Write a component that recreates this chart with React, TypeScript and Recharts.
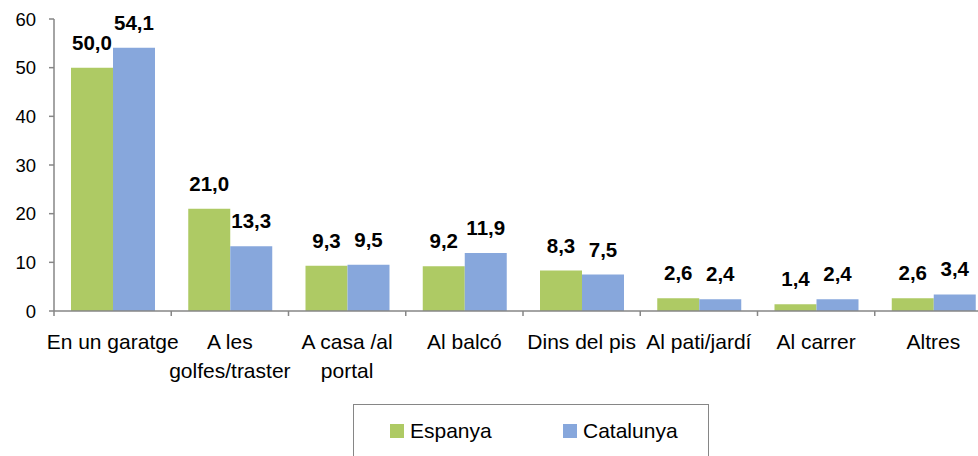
import React from 'react';
import { BarChart, Bar, XAxis, YAxis, LabelList, Legend } from 'recharts';

const categories = [
  'En un garatge',
  'A les\ngolfes/traster',
  'A casa /al\nportal',
  'Al balcó',
  'Dins del pis',
  'Al pati/jardí',
  'Al carrer',
  'Altres',
];
const espanya = [50.0, 21.0, 9.3, 9.2, 8.3, 2.6, 1.4, 2.6];
const catalunya = [54.1, 13.3, 9.5, 11.9, 7.5, 2.4, 2.4, 3.4];
const seriesNames = ['Espanya', 'Catalunya'];
const yTicks = [0, 10, 20, 30, 40, 50, 60];

const data = categories.map((c, i) => ({ name: c, Espanya: espanya[i], Catalunya: catalunya[i] }));

const GREEN = '#AECA64';
const BLUE = '#87A7DC';
const AXIS = '#868686';
const FONT = '"Liberation Sans", Arial, sans-serif';

const CHART_W = 1000;
const MARGIN = { top: 19, right: 8, left: 0, bottom: 85 };
const Y_W = 54;
const BAND = (CHART_W - MARGIN.left - MARGIN.right - Y_W) / categories.length;

const fmt = (v: any) => Number(v).toFixed(1).replace('.', ',');

const XTick = (props: any) => {
  const { x, y, payload, index, visibleTicksCount } = props;
  const half = BAND / 2;
  const lines = String(payload.value).split('\n');
  return (
    <g>
      <line x1={x - half} x2={x - half} y1={y} y2={y + 5} stroke={AXIS} strokeWidth={1.5} />
      {index === visibleTicksCount - 1 && (
        <line x1={x + half} x2={x + half} y1={y} y2={y + 5} stroke={AXIS} strokeWidth={1.5} />
      )}
      <text x={x} y={y + 38} textAnchor="middle" fontFamily={FONT} fontSize={21} fill="#000">
        {lines.map((l, i) => (
          <tspan key={i} x={x} dy={i === 0 ? 0 : 29}>
            {l}
          </tspan>
        ))}
      </text>
    </g>
  );
};

const LegendContent = (props: any) => {
  const items = [...(props.payload || [])].sort(
    (a: any, b: any) => seriesNames.indexOf(a.value) - seriesNames.indexOf(b.value)
  );
  const lefts = [36, 209];
  return (
    <div style={{ position: 'relative', width: '100%', height: '100%', fontFamily: FONT, fontSize: 21 }}>
      {items.map((it: any, i: number) => (
        <div key={i} style={{ position: 'absolute', left: lefts[i], top: 14, display: 'flex', alignItems: 'center', whiteSpace: 'nowrap' }}>
          <span style={{ display: 'inline-block', width: 14, height: 14, background: it.color, marginRight: 6 }} />
          <span style={{ color: '#000' }}>{it.value}</span>
        </div>
      ))}
    </div>
  );
};

export default function App() {
  return (
    <div style={{ position: 'absolute', left: 0, top: 0, width: 978, height: 456, overflow: 'hidden', background: '#fff' }}>
      <BarChart width={CHART_W} height={456} data={data} margin={MARGIN} barCategoryGap="14.5%" barGap={0}>
        <YAxis
          width={Y_W}
          domain={[0, 60]}
          ticks={yTicks}
          interval={0}
          axisLine={{ stroke: AXIS, strokeWidth: 1.5 }}
          tickLine={{ stroke: AXIS, strokeWidth: 1.5 }}
          tickSize={5}
          tickMargin={13}
          tick={{ fill: '#000', fontSize: 18.5, fontFamily: FONT }}
        />
        <XAxis
          dataKey="name"
          height={60}
          interval={0}
          axisLine={{ stroke: AXIS, strokeWidth: 1.5 }}
          tickLine={false}
          tickSize={0}
          tickMargin={0}
          tick={<XTick />}
        />
        <Legend
          layout="horizontal"
          verticalAlign="middle"
          align="center"
          content={<LegendContent />}
          wrapperStyle={{ left: 353, top: 404, width: 356, height: 70, border: `1.5px solid ${AXIS}`, boxSizing: 'border-box', background: '#fff' }}
        />
        <Bar dataKey="Espanya" fill={GREEN} isAnimationActive={false}>
          <LabelList dataKey="Espanya" position="top" offset={18} formatter={fmt} style={{ fontFamily: FONT, fontSize: 20.5, fontWeight: 'bold', fill: '#000' }} />
        </Bar>
        <Bar dataKey="Catalunya" fill={BLUE} isAnimationActive={false}>
          <LabelList dataKey="Catalunya" position="top" offset={18} formatter={fmt} style={{ fontFamily: FONT, fontSize: 20.5, fontWeight: 'bold', fill: '#000' }} />
        </Bar>
      </BarChart>
    </div>
  );
}
